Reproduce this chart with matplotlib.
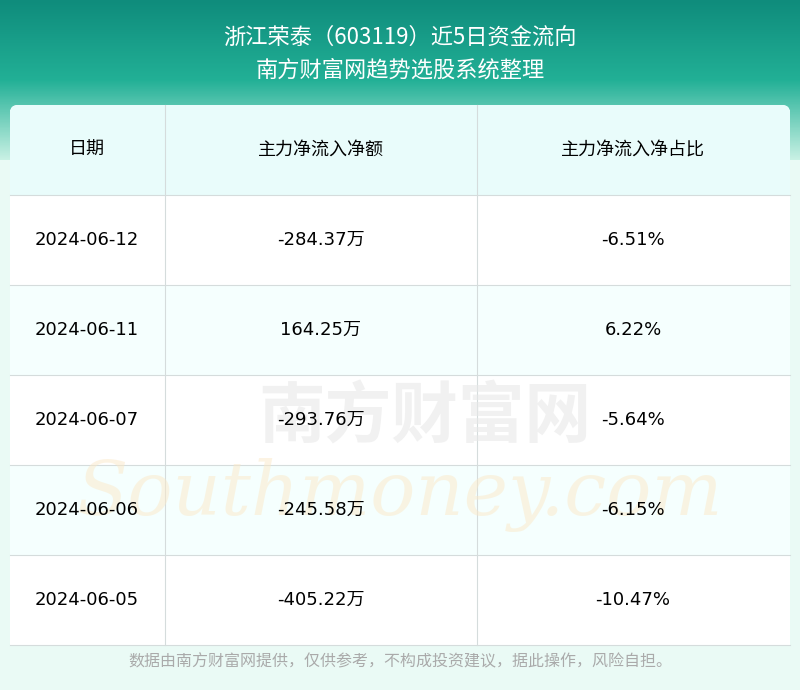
import matplotlib
matplotlib.use("Agg")
import matplotlib.pyplot as plt
import numpy as np
from matplotlib.patches import Rectangle, FancyBboxPatch

title1 = "浙江荣泰（603119）近5日资金流向"
title2 = "南方财富网趋势选股系统整理"
headers = ["日期", "主力净流入净额", "主力净流入净占比"]
dates = ["2024-06-12", "2024-06-11", "2024-06-07", "2024-06-06", "2024-06-05"]
amounts = ["-284.37万", "164.25万", "-293.76万", "-245.58万", "-405.22万"]
ratios = ["-6.51%", "6.22%", "-5.64%", "-6.15%", "-10.47%"]
footer = "数据由南方财富网提供，仅供参考，不构成投资建议，据此操作，风险自担。"

FAM = ["DejaVu Sans", "Noto Sans CJK SC"]
plt.rcParams["font.family"] = FAM
fig = plt.figure(figsize=(8, 6.9), dpi=100)
ax = fig.add_axes([0, 0, 1, 1])
ax.set_xlim(0, 800); ax.set_ylim(690, 0); ax.axis("off")

ax.add_patch(Rectangle((0, 0), 800, 690, color="#eafaf5", zorder=0))
grad = np.linspace(0, 1, 160)[:, None]
cmap = matplotlib.colors.LinearSegmentedColormap.from_list("g", ["#0f8c7c", "#22b096", "#c8f1e4"])
ax.imshow(grad, extent=(0, 800, 160, 0), cmap=cmap, aspect="auto", zorder=1)

ax.text(400, 37, title1, color="white", fontsize=16, ha="center", va="center", zorder=5,
        family="Noto Sans CJK SC")
ax.text(400, 70, title2, color="white", fontsize=16, ha="center", va="center", zorder=5,
        family="Noto Sans CJK SC")

ax.add_patch(FancyBboxPatch((10, 105), 780, 540, boxstyle="round,pad=0,rounding_size=8",
                            fc="white", ec="none", zorder=2))
ax.add_patch(Rectangle((10, 110), 780, 85, fc="#e9fcfb", ec="none", zorder=2))
ax.add_patch(FancyBboxPatch((10, 105), 780, 20, boxstyle="round,pad=0,rounding_size=8",
                            fc="#e9fcfb", ec="none", zorder=2))
cx = [87, 321, 633]
xs = [10, 165, 477, 790]
for c, h in zip(cx, headers):
    ax.text(c, 150, h, fontsize=13, ha="center", va="center", zorder=5, family="Noto Sans CJK SC")
for i, (d, a, r) in enumerate(zip(dates, amounts, ratios)):
    y0 = 195 + 90 * i
    fc = "white" if i % 2 == 0 else "#f5fffe"
    ax.add_patch(Rectangle((10, y0), 780, 90, fc=fc, ec="none", zorder=2))
    ax.plot([10, 790], [y0, y0], color="#d5dcdc", lw=0.8, zorder=3)
    yc = y0 + 45
    ax.text(cx[0], yc, d, fontsize=13, ha="center", va="center", zorder=5)
    ax.text(cx[1], yc, a, fontsize=13, ha="center", va="center", zorder=5)
    ax.text(cx[2], yc, r, fontsize=13, ha="center", va="center", zorder=5)
ax.plot([10, 790], [645, 645], color="#d5dcdc", lw=0.8, zorder=3)
for x in xs[1:3]:
    ax.plot([x, x], [105, 645], color="#d5dcdc", lw=0.8, zorder=3)

ax.text(425, 418, "南方财富网", fontsize=48, color="#e8e8e8", ha="center", va="center", zorder=4,
        alpha=0.6, family="Noto Sans CJK SC", fontweight="bold")
ax.text(400, 495, "Southmoney.com", fontsize=54, color="#fbe9c8", ha="center", va="center",
        zorder=4, alpha=0.5, family="DejaVu Serif", style="italic")

ax.text(400, 662, footer, fontsize=11.5, color="#aaaaaa", ha="center", va="center", zorder=5,
        family="Noto Sans CJK SC")
fig.savefig("out.png", dpi=100)
